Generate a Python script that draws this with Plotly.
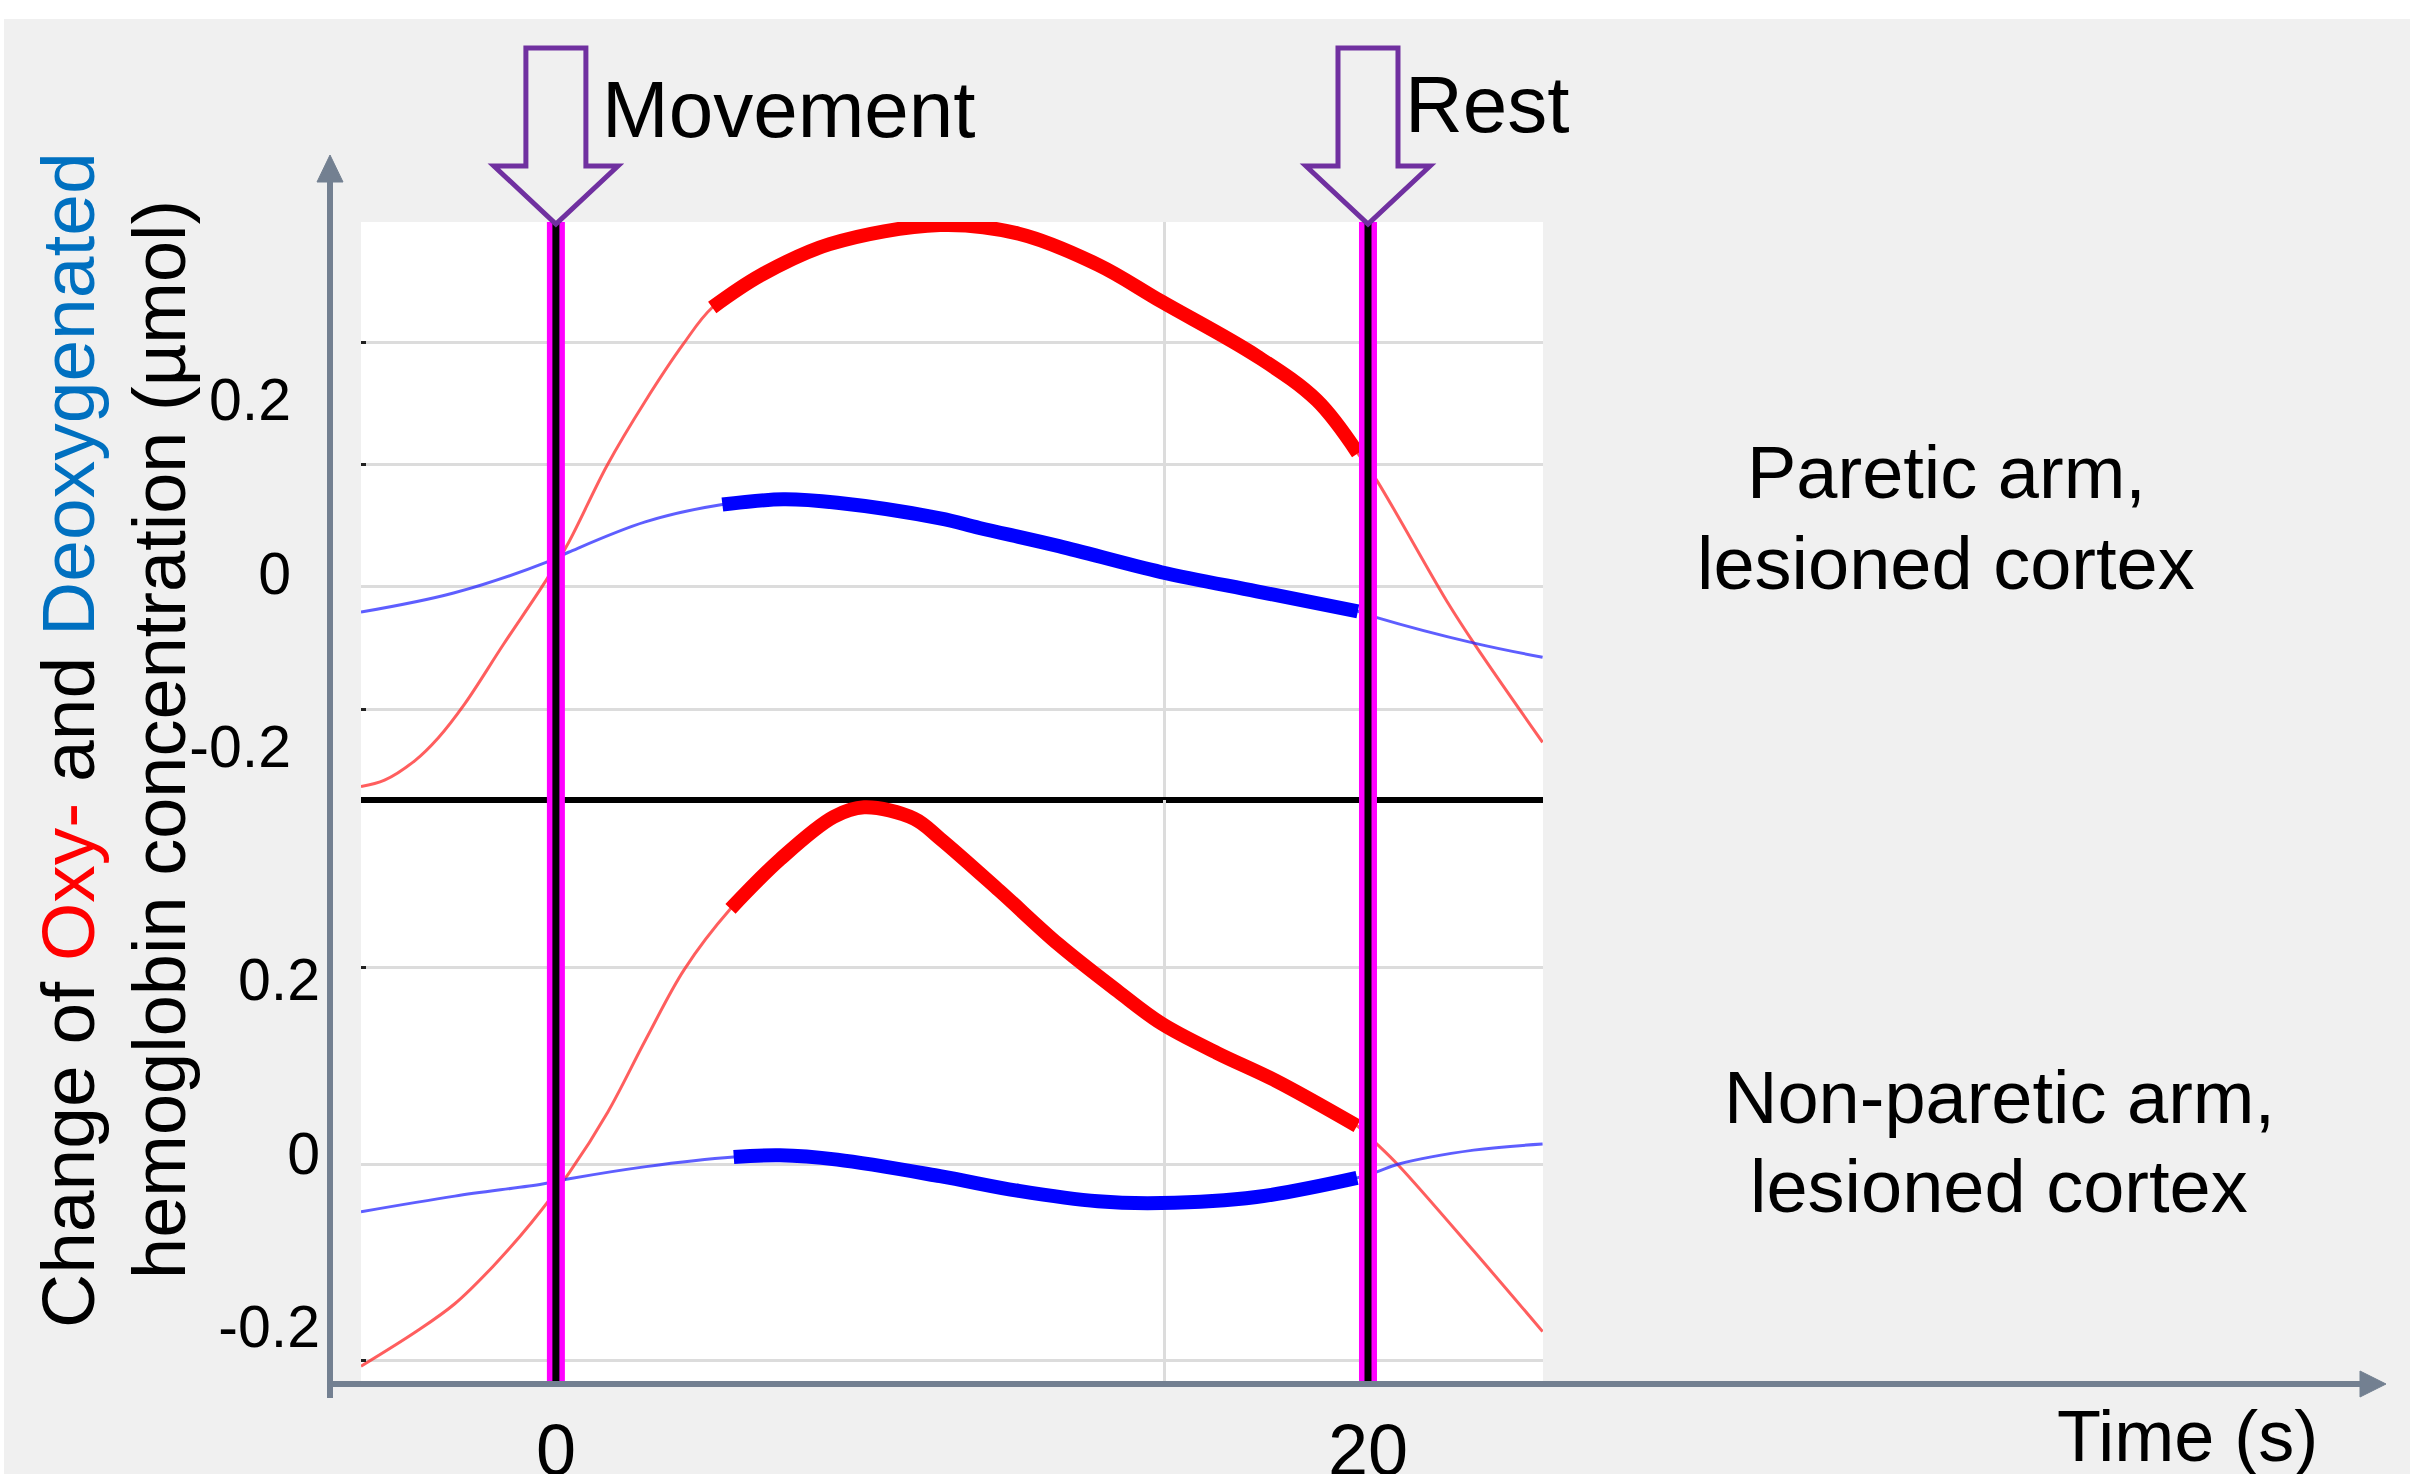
import plotly.graph_objects as go

W, H = 2410, 1474

# ---------------- data ----------------
event_times = [0, 20]
event_labels = ["Movement", "Rest"]
x_tick_text = ["0", "20"]
x_grid = [15]
x_range = [-4.80, 24.31]

y_tick_vals = [-0.2, 0, 0.2]
y_tick_text = ["-0.2", "0", "0.2"]
top_y_grid = [-0.141, 0.141, 0.282]
bot_y_grid = [-0.226, 0.226]
top_y_range = [-0.242, 0.4205]
bot_y_range = [-0.250, 0.4194]

# Paretic arm (top panel)
top_oxy_t = [-4.8, -4.22, -3.47, -2.90, -2.25, -1.29, -0.25, 0.31, 1.26, 2.20, 3.14, 3.85, 5.04, 6.74, 9.46,
             11.4, 13.36, 14.91, 17.26, 18.74, 19.75, 20.2, 21.95, 22.64, 24.3]
top_oxy = [-0.230, -0.2226, -0.200, -0.174, -0.135, -0.066, 0.007, 0.051, 0.140, 0.214, 0.280, 0.322, 0.359,
           0.395, 0.417, 0.407, 0.371, 0.329, 0.266, 0.215, 0.154, 0.124, -0.017, -0.067, -0.179]
top_oxy_active = [3.85, 19.75]

top_deoxy_t = [-4.8, -2.52, -0.21, 0.31, 2.20, 4.10, 5.6, 6.93, 9.46, 10.43, 12.39, 14.91, 17.26,
               19.75, 20.2, 22.64, 24.3]
top_deoxy = [-0.029, -0.007, 0.029, 0.040, 0.075, 0.095, 0.101, 0.097, 0.079, 0.068, 0.047, 0.017, -0.005,
             -0.028, -0.035, -0.065, -0.081]
top_deoxy_active = [4.10, 19.75]

# Non-paretic arm (bottom panel)
bot_oxy_t = [-4.8, -3.44, -2.49, -1.55, -0.61, 0.33, 1.28, 2.22, 3.16, 4.30, 5.52, 6.84, 7.59, 8.82,
             9.46, 10.92, 12.38, 13.84, 14.91, 16.28, 17.73, 19.73, 20.22, 20.76, 22.6, 24.3]
bot_oxy = [-0.233, -0.193, -0.161, -0.118, -0.068, -0.010, 0.060, 0.144, 0.224, 0.294, 0.351, 0.400, 0.411,
           0.398, 0.375, 0.315, 0.253, 0.199, 0.162, 0.128, 0.096, 0.044, 0.023, -0.002, -0.100, -0.193]
bot_oxy_active = [4.30, 19.73]

bot_deoxy_t = [-4.8, -2.49, -0.33, 0.33, 2.22, 4.38, 5.52, 6.93, 9.46, 11.40, 13.35, 14.91, 17.25,
               19.73, 20.22, 20.76, 22.6, 24.3]
bot_deoxy = [-0.055, -0.037, -0.023, -0.017, -0.003, 0.008, 0.010, 0.005, -0.014, -0.031, -0.043, -0.045,
             -0.038, -0.016, -0.009, 0.000, 0.016, 0.023]
bot_deoxy_active = [4.38, 19.73]

panel_texts = [["Paretic arm,", "lesioned cortex"], ["Non-paretic arm,", "lesioned cortex"]]
y_title_lines = ["Change of <span style='color:#ff0000'>Oxy-</span> and "
                 "<span style='color:#0070c0'>Deoxygenated</span>",
                 "hemoglobin concentration (µmol)"]
x_title = "Time (s)"

# ---------------- style ----------------
FONT = "Liberation Sans, Arial, Helvetica, sans-serif"
RED_THIN = "rgba(255,40,40,0.75)"
BLUE_THIN = "rgba(40,40,255,0.75)"
RED = "#ff0000"
BLUE = "#0000ff"
GRID = "#dcdcdc"
AXIS_GRAY = "#738091"
PURPLE = "#7030a0"


def px(x):
    return x / W


def py(y):
    return 1 - y / H


def active(t, v, win):
    tt = [a for a in t if win[0] <= a <= win[1]]
    vv = [b for a, b in zip(t, v) if win[0] <= a <= win[1]]
    return tt, vv


fig = go.Figure()

series = [
    (top_oxy_t, top_oxy, top_oxy_active, RED_THIN, RED, "x", "y"),
    (top_deoxy_t, top_deoxy, top_deoxy_active, BLUE_THIN, BLUE, "x", "y"),
    (bot_oxy_t, bot_oxy, bot_oxy_active, RED_THIN, RED, "x2", "y2"),
    (bot_deoxy_t, bot_deoxy, bot_deoxy_active, BLUE_THIN, BLUE, "x2", "y2"),
]
for t, v, win, thin_c, thick_c, xa, ya in series:
    fig.add_trace(go.Scatter(x=t, y=v, mode="lines", xaxis=xa, yaxis=ya,
                             line=dict(color=thin_c, width=3, shape="spline", smoothing=1.0),
                             hoverinfo="skip"))
    at, av = active(t, v, win)
    fig.add_trace(go.Scatter(x=at, y=av, mode="lines", xaxis=xa, yaxis=ya,
                             line=dict(color=thick_c, width=14, shape="spline", smoothing=1.0),
                             hoverinfo="skip"))

x_dom = [px(361), px(1543)]
top_dom = [py(797), py(222)]
bot_dom = [py(1381), py(800)]

common_y = dict(tickvals=y_tick_vals, ticktext=y_tick_text, showgrid=False, zeroline=True,
                zerolinecolor=GRID, zerolinewidth=3, ticks="", showline=False, automargin=False,
                tickfont=dict(size=59, color="black", family=FONT))

fig.update_layout(
    width=W, height=H, autosize=False,
    margin=dict(l=0, r=0, t=0, b=0, pad=0, autoexpand=False),
    paper_bgcolor="#f0f0f0", plot_bgcolor="white", showlegend=False,
    font=dict(family=FONT, color="black"),
    xaxis=dict(domain=x_dom, range=x_range, anchor="y", tickvals=x_grid, showticklabels=False,
               showgrid=True, gridcolor=GRID, gridwidth=3, zeroline=False, ticks="", automargin=False,
               showline=True, linecolor="black", linewidth=6),
    yaxis=dict(domain=top_dom, range=top_y_range, anchor="x",
               minor=dict(tickvals=top_y_grid, showgrid=True, gridcolor=GRID, gridwidth=3,
                          ticks="inside", ticklen=5, tickwidth=3, tickcolor="#222222"),
               ticklabelstandoff=69, ticklabelshift=-14, **common_y),
    xaxis2=dict(domain=x_dom, range=x_range, anchor="y2", tickvals=event_times, ticktext=x_tick_text,
                showgrid=False, zeroline=False, ticks="", showline=False, automargin=False,
                minor=dict(tickvals=x_grid, showgrid=True, gridcolor=GRID, gridwidth=3),
                tickfont=dict(size=72, color="black", family=FONT), ticklabelstandoff=21),
    yaxis2=dict(domain=bot_dom, range=bot_y_range, anchor="x2",
                minor=dict(tickvals=bot_y_grid, showgrid=True, gridcolor=GRID, gridwidth=3,
                           ticks="inside", ticklen=5, tickwidth=3, tickcolor="#222222"),
                ticklabelstandoff=40, ticklabelshift=-11, **common_y),
)

shapes = []
# white frame strips of the original slide
shapes.append(dict(type="rect", xref="paper", yref="paper", x0=0, x1=1, y0=py(19), y1=1,
                   fillcolor="white", line=dict(width=0), layer="below"))
shapes.append(dict(type="rect", xref="paper", yref="paper", x0=0, x1=px(4), y0=0, y1=1,
                   fillcolor="white", line=dict(width=0), layer="below"))

# gray axis arrows
shapes.append(dict(type="line", xref="paper", yref="paper", x0=px(330), x1=px(330), y0=py(1398), y1=py(178),
                   line=dict(color=AXIS_GRAY, width=6)))
shapes.append(dict(type="path", xref="paper", yref="paper", xsizemode="pixel", ysizemode="pixel",
                   xanchor=0, yanchor=1,
                   path="M 317,-182 L 343,-182 L 330,-155 Z",
                   fillcolor=AXIS_GRAY, line=dict(color=AXIS_GRAY, width=1)))
shapes.append(dict(type="line", xref="paper", yref="paper", x0=px(327), x1=px(2364), y0=py(1384), y1=py(1384),
                   line=dict(color=AXIS_GRAY, width=6)))
shapes.append(dict(type="path", xref="paper", yref="paper", xsizemode="pixel", ysizemode="pixel",
                   xanchor=0, yanchor=1,
                   path="M 2360,-1371 L 2360,-1397 L 2386,-1384 Z",
                   fillcolor=AXIS_GRAY, line=dict(color=AXIS_GRAY, width=1)))

# event markers: magenta/black vertical lines and outlined block arrows
for t in event_times:
    shapes.append(dict(type="line", xref="x", yref="paper", x0=t, x1=t, y0=py(1381), y1=py(222),
                       line=dict(color="#ff00ff", width=18)))
    shapes.append(dict(type="line", xref="x", yref="paper", x0=t, x1=t, y0=py(1381), y1=py(222),
                       line=dict(color="black", width=7)))
    shapes.append(dict(type="path", xref="x", yref="paper", xsizemode="pixel", ysizemode="pixel",
                       xanchor=t, yanchor=py(224),
                       path="M -30,176 L 30,176 L 30,58 L 62,58 L 0,0 L -62,58 L -30,58 Z",
                       fillcolor="rgba(0,0,0,0)", line=dict(color=PURPLE, width=5)))

fig.update_layout(shapes=shapes)

ann = []
label_shift = [44, 35]
label_y = [110, 105]
for t, lab, sh, yy in zip(event_times, event_labels, label_shift, label_y):
    ann.append(dict(x=t, xref="x", y=py(yy), yref="paper", text=lab, showarrow=False,
                    xanchor="left", yanchor="middle", xshift=sh,
                    font=dict(size=80, color="black", family=FONT)))

panel_pos = [[(1946, 472), (1946, 563)], [(1999, 1097), (1999, 1186)]]
for lines, poss in zip(panel_texts, panel_pos):
    for txt, (xx, yy) in zip(lines, poss):
        ann.append(dict(x=px(xx), xref="paper", y=py(yy), yref="paper", text=txt, showarrow=False,
                        xanchor="center", yanchor="middle",
                        font=dict(size=74, color="black", family=FONT)))

for txt, xx, fs in zip(y_title_lines, [68, 159], [75, 74]):
    ann.append(dict(x=px(xx), xref="paper", y=py(740), yref="paper", text=txt, showarrow=False,
                    textangle=-90, xanchor="center", yanchor="middle",
                    font=dict(size=fs, color="black", family=FONT)))

ann.append(dict(x=px(2187), xref="paper", y=py(1436), yref="paper", text=x_title, showarrow=False,
                xanchor="center", yanchor="middle", font=dict(size=72, color="black", family=FONT)))

fig.update_layout(annotations=ann)

fig.write_html("out.html", config={"responsive": False, "displayModeBar": False},
               post_script="document.body.style.margin='0';document.body.style.overflow='hidden';")
